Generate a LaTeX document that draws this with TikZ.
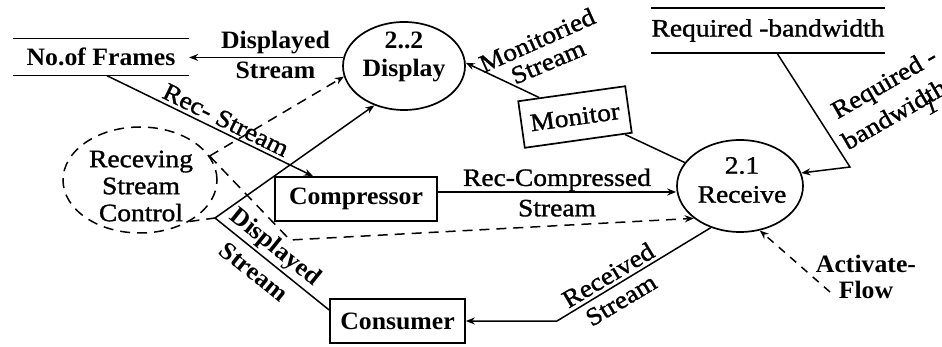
\documentclass[tikz,border=0pt]{standalone}
\usepackage{fontspec}
\setmainfont{Liberation Serif}[FakeStretch=1.1, FakeBold=1.2]
\newfontfamily\heavy{Liberation Serif}[FakeStretch=1.03]
\usetikzlibrary{arrows.meta,shapes.geometric,calc}

\begin{document}
\begin{tikzpicture}[x=1pt,y=-1pt,
  every node/.style={font=\fontsize{25}{27}\selectfont, inner sep=0pt},
  bold/.style={font=\fontsize{25}{27}\selectfont\heavy\bfseries},
  lbl/.style={align=center},
  flow/.style={line width=1.5pt},
  tip/.style={-{Stealth[length=9pt,width=7pt]}},
  arr/.style={flow,tip},
  ctl/.style={line width=1.5pt, dash pattern=on 10pt off 7pt},
  proc/.style={ellipse, draw, line width=1.7pt},
  box/.style={draw, line width=1.7pt}]

\useasboundingbox (0,0) rectangle (942,347);
\clip (0,0) rectangle (942,347);

% data stores
\node[bold, minimum width=176pt, minimum height=37pt] (frames) at (101,57) {No.of Frames};
\draw[flow] (frames.north west) -- (frames.north east);
\draw[flow] (frames.south west) -- (frames.south east);

\node[minimum width=233pt, minimum height=45pt] (reqbw) at (768,30.5) {Required -bandwidth};
\draw[flow] (reqbw.north west) -- (reqbw.north east);
\draw[flow] (reqbw.south west) -- (reqbw.south east);

% processes
\node[proc, minimum width=122pt, minimum height=88pt] (disp) at (404,66) {};
\node[lbl, bold, font=\fontsize{25}{28}\selectfont\heavy\bfseries] (disptext) at (404,57) {2..2\\Display};

\node[proc, minimum width=126pt, minimum height=92pt] (recv) at (740,186) {};
\node[lbl, font=\fontsize{25}{29}\selectfont] (recvtext) at (742,180) {2.1\\Receive};

\node[ellipse, draw, ctl, minimum width=154pt, minimum height=106pt] (ctrl) at (140,180) {};
\node[lbl] (ctrltext) at (141,186) {Receving\\Stream\\Control};

% external entities
\node[box, bold, minimum width=162pt, minimum height=44pt] (comp) at (356,199) {Compressor};
\node[box, bold, minimum width=135pt, minimum height=44pt] (cons) at (397.5,321) {Consumer};
\node[box, minimum width=108pt, minimum height=47pt, rotate=8] (mon) at (575,117) {Monitor};

% bend points
\coordinate (dcorner) at (215,218);
\coordinate (cbend) at (290,240);
\coordinate (rbcorner) at (850,167);
\coordinate (rscorner) at (557,321);
\coordinate (actsrc) at (830,292);

% data flows
\draw[arr] (disp.172) -- (disp.172 -| frames.east)
  node[pos=0.44, above=3pt, bold] (ldsa) {Displayed}
  node[pos=0.44, below=4pt, bold] (ldsb) {Stream};

\draw[arr] ([xshift=6pt]frames.south) -- ([xshift=-43pt]comp.north);
\node[rotate=-26] (lrs) at (226,120) {Rec- Stream};

\draw[arr] ([yshift=7pt]comp.east) -- ([yshift=7pt]comp.east -| recv.west)
  node[pos=0.5, above=0pt] (lrca) {Rec-Compressed}
  node[pos=0.5, below=7pt] (lrcb) {Stream};

\draw[arr] ([yshift=11pt]cons.west) -- (dcorner) -- (disp.233);
\node[bold, rotate=-39] (ldca) at (275,248) {Displayed};
\node[bold, rotate=-39] (ldcb) at (254,272) {Stream};

\draw[arr] ($(mon.north west)!0.2!(mon.north east)$) -- (disp.3);
\node[rotate=24] (lmsa) at (537,40) {Monitoried};
\node[rotate=23] (lmsb) at (548,62) {Stream};

\draw[flow] ($(mon.south west)!0.93!(mon.south east)$) -- (recv.157);

\draw[arr] ([xshift=9pt]reqbw.south) -- (rbcorner) -- (recv.12);
\node[rotate=30] (lrba) at (885,85) {Required -};
\node[rotate=30] (lrbb) at (894,114) {bandwidth};
\node[rotate=30, font=\fontsize{22}{24}\selectfont\itshape] (lrbc) at (931,106) {1};

\draw[arr] (recv.235) -- (rscorner) -- (cons.east);
\node[rotate=31] (lrsa) at (608,275) {Received};
\node[rotate=31] (lrsb) at (621,300) {Stream};

% control flows
\draw[ctl, tip] (ctrl.19) -- (disp.190);
\draw[ctl, tip] (ctrl.19) -- (cbend) -- (recv.215);
\draw[ctl] (ctrl.-40) -- (dcorner);

\node[lbl, font=\fontsize{25}{26}\selectfont\heavy\bfseries] (act) at (866,277) {Activate-\\Flow};
\draw[ctl, dash pattern=on 8pt off 7pt, tip] (actsrc) -- (recv.-66);

\end{tikzpicture}
\end{document}
